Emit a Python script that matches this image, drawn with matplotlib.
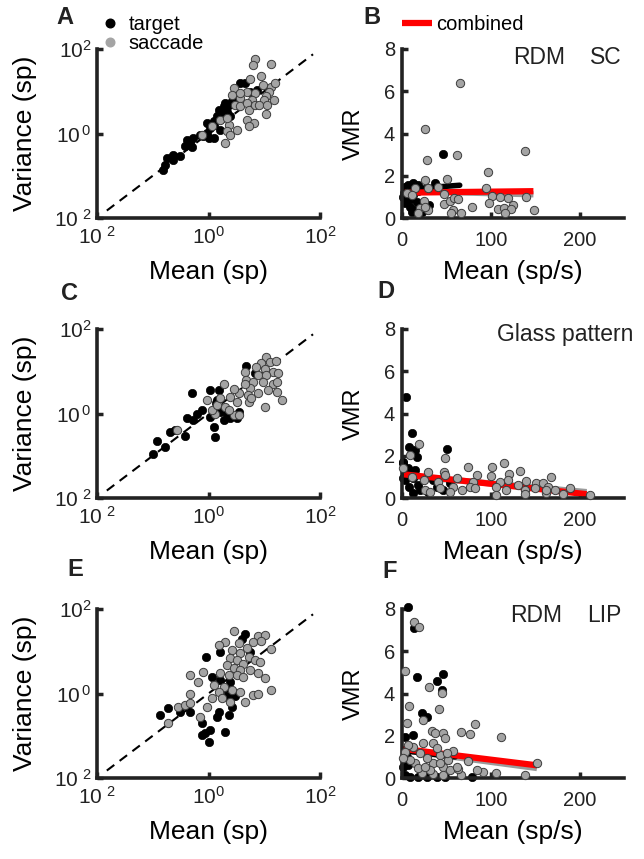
import matplotlib
matplotlib.use('Agg')
import matplotlib.pyplot as plt
import numpy as np
from matplotlib.lines import Line2D
from matplotlib.ticker import NullLocator

plt.rcParams['font.family'] = ['Liberation Sans', 'DejaVu Sans']
plt.rcParams['mathtext.fontset'] = 'custom'
plt.rcParams['mathtext.rm'] = 'Liberation Sans'
plt.rcParams['mathtext.default'] = 'regular'

# ---- panel A: RDM / SC, log10 mean and log10 variance (sp) ----
A_tgt_lm = [0.66, 0.87, 0.75, 0.42, 0.33, 0.27, 0.24, 0.15, 0.09, 0.03, -0.03, -0.09, -0.15, -0.27, -0.33,
            -0.39, -0.42, -0.51, -0.63, -0.75, -0.78, 0.21, -0.03, 0.18, 0.30, 0.36, 0.10, 0.39, 0.51, 0.57,
            0.09, 0.00, -0.81, -0.64, -0.30]
A_tgt_lv = [1.19, 1.03, 0.99, 0.76, 0.52, 0.64, 0.44, 0.41, 0.29, 0.13, 0.01, -0.07, -0.03, -0.11, -0.19,
            -0.15, -0.30, -0.54, -0.62, -0.58, -0.74, 0.09, 0.25, 0.56, 0.72, 0.68, 0.21, 0.41, 0.80, 1.19,
            -0.11, -0.11, -0.86, -0.51, -0.31]
A_sac_lm = [0.84, 0.79, 1.12, 0.94, 0.75, 0.97, 1.13, 1.08, 1.20, 1.03, 0.99, 0.84, 0.78, 0.69, 0.57,
            0.45, 0.42, 0.48, 0.57, 0.69, 0.72, 0.84, 0.90, 1.05, 1.17, 1.03, 0.69, 0.81, 0.72, 0.36,
            0.33, 0.39, 0.30, 0.51, 0.06, 0.21, -0.12, 0.33, 0.57]
A_sac_lv = [1.76, 1.63, 1.65, 1.35, 1.29, 1.15, 1.11, 0.99, 1.19, 0.88, 0.80, 0.96, 0.80, 0.99, 0.84,
            1.07, 0.92, 0.68, 0.64, 0.72, 0.56, 0.68, 0.68, 0.68, 0.80, 0.47, 0.33, 0.25, 0.17, 0.21,
            0.05, -0.03, -0.22, 0.09, 0.17, 0.33, -0.03, 0.37, 0.96]

# ---- panel B: RDM / SC, mean (sp/s) vs VMR ----
B_tgt_x = [46.4, 3.4, 7.1, 12.7, 18.3, 5.2, 1.5, 9.0, 14.6, 16.5, 20.2, 10.9, 27.7, 37.1, 3.4, 7.1,
           12.7, 22.1, 2.0, 5.0, 10.0, 25.0, 30.0, 18.0]
B_tgt_y = [3.02, 1.49, 1.57, 1.64, 1.57, 0.86, 1.01, 0.54, 0.38, 0.78, 0.62, 0.30, 0.46, 1.64, 0.70, 1.25,
           1.09, 0.30, 1.20, 1.00, 0.90, 0.55, 0.60, 1.30]
B_sac_x = [65.2, 25.8, 62.2, 27.7, 138.2, 96.3, 25.8, 51.0, 40.8, 29.6, 14.6, 5.2, 10.9, 94.4, 100.8,
           110.1, 119.5, 140.1, 98.1, 108.2, 114.6, 125.1, 123.2, 115.7, 148.3, 78.3, 67.0, 56.9, 54.7,
           47.6, 47.6, 54.0, 58.4, 63.3, 24.7, 29.6, 20.2, 18.3, 25.8]
B_sac_y = [6.38, 4.21, 2.98, 2.75, 3.19, 2.17, 1.80, 1.83, 1.49, 1.41, 1.41, 1.17, 1.09, 1.41, 1.06,
           1.00, 0.93, 1.00, 0.73, 0.41, 0.49, 0.62, 0.43, 0.22, 0.38, 0.51, 0.26, 0.38, 0.22,
           0.67, 1.12, 0.81, 0.97, 0.90, 0.81, 0.38, 0.49, 0.22, 0.54]
B_fit_x = [3, 148]
B_fit_comb = [1.20, 1.27]
B_fit_sac = [1.28, 1.12]
B_fit_tgt_x = [2, 65]
B_fit_tgt = [1.35, 1.55]

# ---- panel C: Glass pattern, log10 mean / variance ----
C_tgt_lm = [0.68, 0.83, -0.30, 0.03, 0.19, 0.16, 0.13, 0.21, 0.33, 0.39, 0.51, 0.54, 0.27, 0.09, 0.12,
            0.03, -0.12, -0.21, -0.27, -0.39, -0.60, -0.69, -0.42, -0.78, -0.93, -0.99]
C_tgt_lv = [1.12, 0.95, 0.48, 0.56, 0.56, 0.32, 0.24, 0.04, 0.00, -0.11, -0.11, 0.04, -0.15, -0.31, -0.55,
            -0.08, 0.08, 0.00, -0.15, -0.11, -0.39, -0.43, -0.53, -0.79, -0.64, -0.96]
C_sac_lm = [1.03, 0.95, 1.10, 1.21, 0.85, 1.01, 1.15, 1.25, 0.65, 0.89, 1.04, 0.67, 0.80, 0.98, 1.16,
            1.22, 1.07, 1.22, 1.31, 0.74, 0.89, 0.70, 0.54, 0.45, 0.27, 0.39, 0.51, 0.72, 0.77, 1.01,
            0.30, 0.12, 0.06, -0.03, 0.15, 0.21, 0.45, 0.54, 0.36, -0.57, 0.65]
C_sac_lv = [1.33, 1.19, 1.23, 1.25, 1.09, 1.05, 0.99, 0.95, 0.99, 0.91, 0.91, 0.79, 0.75, 0.75, 0.71,
            0.75, 0.56, 0.52, 0.32, 0.60, 0.48, 0.44, 0.48, 0.57, 0.71, 0.40, 0.28, 0.28, 0.36, 0.16,
            0.16, 0.00, 0.08, 0.32, 0.20, 0.36, -0.04, -0.04, 0.08, -0.39, 0.71]

# ---- panel D: Glass pattern, mean (sp/s) vs VMR ----
D_tgt_x = [4.5, 10.9, 8.2, 14.6, 16.5, 50.9, 1.5, 7.1, 14.6, 3.4, 12.7, 20.2, 35.2, 39.0, 54.0, 46.4,
           5.2, 12.7, 29.6, 1.0, 1.5, 8.0, 18.0]
D_tgt_y = [4.80, 3.09, 2.43, 2.27, 1.96, 2.32, 1.64, 1.40, 1.33, 0.85, 0.22, 0.38, 0.85, 0.54, 0.69, 0.38,
           1.17, 0.93, 0.30, 1.72, 0.93, 0.50, 0.60]
D_sac_x = [19.5, 9.0, 48.3, 74.5, 101.9, 115.0, 132.6, 168.2, 47.2, 29.6, 1.5, 83.9, 100.7, 120.6, 24.7,
           40.8, 62.2, 80.1, 110.1, 119.5, 139.3, 151.3, 158.8, 164.4, 149.4, 171.9, 188.8, 10.9, 57.7,
           67.1, 76.4, 106.4, 117.6, 130.7, 138.2, 162.6, 181.3, 106.4, 138.2, 211.2, 25.8, 31.5, 42.7,
           54.0, 48.3, 82.0, 162.6]
D_sac_y = [2.54, 2.04, 1.88, 1.45, 1.45, 1.64, 1.29, 0.98, 1.25, 1.25, 1.40, 1.09, 1.06, 1.12, 0.85,
           0.77, 0.93, 0.77, 0.77, 0.85, 0.81, 0.69, 0.69, 0.54, 0.46, 0.38, 0.46, 1.01, 0.54,
           0.38, 0.54, 0.50, 0.38, 0.62, 0.38, 0.22, 0.19, 0.14, 0.19, 0.14, 0.38, 0.30, 0.46,
           0.30, 1.09, 0.46, 0.38]
D_fit_x = [2, 208]
D_fit_comb = [1.12, 0.18]
D_fit_sac = [1.06, 0.28]

# ---- panel E: RDM / LIP, log10 mean / variance ----
E_tgt_lm = [-0.05, 0.66, 0.60, 0.21, 0.06, 0.21, 0.39, 0.30, 0.33, 0.42, 0.36, 0.18, -0.12, -0.33, -0.51,
            -0.72, -0.87, 0.03, -0.06, 0.30, 0.15, 0.75, 0.48, 0.00, -0.12]
E_tgt_lv = [0.86, 1.41, 1.28, 0.99, 0.40, 0.32, 0.28, 0.12, -0.07, -0.31, -0.51, -0.43, -0.71, -0.43, -0.43,
            -0.35, -0.51, -0.86, -0.94, -0.90, -0.55, 0.99, -0.07, -1.14, -0.98]
E_sac_lm = [0.46, 0.88, 1.01, 0.80, 0.55, 0.30, 0.18, 0.42, 0.69, 0.94, 1.13, 0.57, 0.72, 0.83, 0.92,
            0.39, 0.51, 0.62, 0.33, 0.45, 0.57, 0.75, 0.89, 1.01, 0.21, 0.36, 0.51, 0.62, -0.09, -0.33,
            -0.18, 0.09, 0.27, 0.42, 0.57, 0.18, 0.80, 0.89, 1.13, -0.33, 0.06, 0.24, 0.39, 0.66, -0.03,
            -0.54, -0.42, -0.15, -0.72, -0.33]
E_sac_lv = [1.49, 1.36, 1.38, 1.23, 1.19, 1.23, 1.15, 1.03, 1.07, 1.25, 1.05, 0.95, 0.87, 0.79, 0.75,
            0.83, 0.79, 0.71, 0.67, 0.60, 0.56, 0.56, 0.49, 0.36, 0.48, 0.44, 0.44, 0.40, 0.52, 0.44,
            0.28, 0.20, 0.16, 0.08, 0.04, 0.04, -0.04, 0.00, 0.08, 0.00, -0.11, -0.11, -0.19, -0.19, -0.31,
            -0.31, -0.27, -0.55, -0.71, -0.23]

# ---- panel F: RDM / LIP, mean (sp/s) vs VMR ----
F_tgt_x = [7.1, 13.5, 16.5, 46.4, 39.0, 44.6, 22.1, 27.7, 3.4, 12.7, 5.2, 7.1, 1.5, 3.4, 9.0, 18.4, 27.7,
           39.0, 48.3, 78.3]
F_tgt_y = [8.11, 7.08, 4.80, 4.92, 4.59, 4.17, 3.06, 2.90, 1.96, 2.04, 1.01, 0.62, 0.54, 0.14, 0.05, 0.05,
           0.05, 0.05, 0.05, 0.05]
F_sac_x = [13.5, 19.3, 3.4, 30.7, 44.6, 41.9, 8.2, 24.0, 5.2, 82.0, 76.4, 66.3, 112.0, 33.3, 37.1, 46.4,
           48.3, 24.0, 35.2, 57.7, 74.5, 152.1, 138.2, 106.4, 91.4, 83.9, 67.0, 62.5, 46.4, 54.0, 35.2,
           27.7, 20.2, 12.7, 7.1, 3.4, 14.6, 22.1, 35.2, 46.4, 52.1, 42.7, 39.0, 9.0, 31.5, 18.3, 25.8,
           42.7, 50.2, 61.4, 1.0]
F_sac_y = [7.40, 7.13, 5.08, 4.29, 4.04, 3.25, 3.41, 2.75, 2.62, 2.54, 2.08, 2.16, 1.96, 2.23, 2.15, 2.11,
           1.91, 1.64, 1.67, 1.29, 0.80, 0.73, 0.14, 0.25, 0.30, 0.38, 0.14, 0.41, 0.54, 0.38, 0.69,
           0.93, 1.17, 1.48, 1.56, 1.24, 0.69, 0.22, 0.19, 0.14, 0.85, 1.09, 1.40, 0.85, 0.38, 0.46, 0.54,
           0.69, 1.17, 0.54, 0.95]
F_fit_x = [1, 152]
F_fit_comb = [1.38, 0.60]
F_fit_sac = [1.32, 0.47]
F_fit_tgt_x = [1, 60]
F_fit_tgt = [1.30, 1.00]

diag = [0.015, 75]

AX_COL = '#222222'
SAC_FACE = '#a4a4a4'
SAC_EDGE = '#3c3c3c'
MS = 36

fig = plt.figure(figsize=(6.44, 8.59), dpi=100)
W, H = 644.0, 859.0


def add_ax(left, top, right, bottom):
    return fig.add_axes([left / W, 1 - bottom / H, (right - left) / W, (bottom - top) / H])


def style(ax, lsize):
    for s in ['top', 'right']:
        ax.spines[s].set_visible(False)
    for s in ['left', 'bottom']:
        ax.spines[s].set_linewidth(2.6)
        ax.spines[s].set_color(AX_COL)
    ax.tick_params(direction='in', length=4, width=2.5, color=AX_COL, labelsize=lsize, labelcolor='#222222')
    ax.set_facecolor('none')


def log_panel(ax, tm, tv, sm, sv):
    ax.plot(diag, diag, color='k', lw=1.5, dashes=(4.5, 3.2), zorder=1)
    ax.scatter(10 ** np.array(tm), 10 ** np.array(tv), s=MS, c='k', edgecolors='k', linewidths=0.5,
               zorder=2, clip_on=False)
    ax.scatter(10 ** np.array(sm), 10 ** np.array(sv), s=MS, c=SAC_FACE, edgecolors=SAC_EDGE,
               linewidths=0.7, zorder=3, clip_on=False)
    ax.set_xscale('log')
    ax.set_yscale('log')
    ax.set_xlim(1e-2, 1e2)
    ax.set_ylim(1e-2, 1e2)
    ax.set_xticks([1e-2, 1, 1e2])
    ax.set_yticks([1e-2, 1, 1e2])
    ax.xaxis.set_minor_locator(NullLocator())
    ax.yaxis.set_minor_locator(NullLocator())
    ax.set_xticklabels([r'$10^{\ 2}$', r'$10^{0}$', r'$10^{2}$'])
    ax.set_yticklabels([r'$10^{\ 2}$', r'$10^{\,0}$', r'$10^{2}$'])
    style(ax, 15)
    ax.tick_params(axis='x', pad=6)
    ax.tick_params(axis='y', pad=4)
    ax.set_xlabel('Mean (sp)', fontsize=19)
    ax.set_ylabel('Variance (sp)', fontsize=19)
    ax.xaxis.set_label_coords(0.5, -0.25)
    ax.yaxis.set_label_coords(-0.27, 0.5)


def vmr_panel(ax, tx, ty, sx, sy, fx, comb, sac, tfx=None, tfy=None):
    ax.plot(fx, sac, color='#9a9a9a', lw=4.5, solid_capstyle='butt', zorder=1)
    if tfx is not None:
        ax.plot(tfx, tfy, color='k', lw=4, solid_capstyle='round', zorder=1.5)
    ax.scatter(tx, ty, s=MS, c='k', edgecolors='k', linewidths=0.5, zorder=2, clip_on=False)
    ax.plot(fx, comb, color='#ff0000', lw=4.5, solid_capstyle='butt', zorder=2.5)
    ax.scatter(sx, sy, s=MS, c=SAC_FACE, edgecolors=SAC_EDGE, linewidths=0.7, zorder=3, clip_on=False)
    ax.set_xlim(0, 250)
    ax.set_ylim(0, 8)
    ax.set_xticks([0, 100, 200])
    ax.set_yticks([0, 2, 4, 6, 8])
    style(ax, 14.5)
    ax.tick_params(axis='x', pad=9)
    ax.tick_params(axis='y', pad=5)
    ax.set_xlabel('Mean (sp/s)', fontsize=19)
    ax.set_ylabel('VMR', fontsize=17)
    ax.xaxis.set_label_coords(0.5, -0.25)
    ax.yaxis.set_label_coords(-0.167, 0.5)


axA = add_ax(97, 49, 320, 218)
axB = add_ax(402, 49, 624, 218)
axC = add_ax(97, 329, 320, 498)
axD = add_ax(402, 329, 624, 498)
axE = add_ax(97, 609, 320, 778)
axF = add_ax(402, 609, 624, 778)

log_panel(axA, A_tgt_lm, A_tgt_lv, A_sac_lm, A_sac_lv)
log_panel(axC, C_tgt_lm, C_tgt_lv, C_sac_lm, C_sac_lv)
log_panel(axE, E_tgt_lm, E_tgt_lv, E_sac_lm, E_sac_lv)
vmr_panel(axB, B_tgt_x, B_tgt_y, B_sac_x, B_sac_y, B_fit_x, B_fit_comb, B_fit_sac, B_fit_tgt_x, B_fit_tgt)
vmr_panel(axD, D_tgt_x, D_tgt_y, D_sac_x, D_sac_y, D_fit_x, D_fit_comb, D_fit_sac)
vmr_panel(axF, F_tgt_x, F_tgt_y, F_sac_x, F_sac_y, F_fit_x, F_fit_comb, F_fit_sac, F_fit_tgt_x, F_fit_tgt)

# legends
h_t = Line2D([], [], ls='none', marker='o', ms=6.2, mfc='k', mec='k')
h_s = Line2D([], [], ls='none', marker='o', ms=6.2, mfc=SAC_FACE, mec=SAC_FACE)
axA.legend([h_t, h_s], ['target', 'saccade'], loc='upper left', bbox_to_anchor=(0.02, 1.2),
           frameon=False, fontsize=14.5, handlelength=0.8, handletextpad=0.55, labelspacing=0.0,
           borderpad=0, borderaxespad=0)
h_c = Line2D([], [], color='#ff0000', lw=4.5, solid_capstyle='butt')
axB.legend([h_c], ['combined'], loc='upper left', bbox_to_anchor=(0.0, 1.2),
           frameon=False, fontsize=14.5, handlelength=1.5, handletextpad=0.2, borderpad=0, borderaxespad=0)

# panel annotations
axB.text((513 - 402) / 222, (218 - 57) / 169, 'RDM', transform=axB.transAxes, fontsize=16.5,
         ha='left', va='center', color='#222222')
axB.text((590 - 402) / 222, (218 - 57) / 169, 'SC', transform=axB.transAxes, fontsize=16.5,
         ha='left', va='center', color='#222222')
axD.text((497 - 402) / 222, (498 - 335) / 169, 'Glass pattern', transform=axD.transAxes, fontsize=16.5,
         ha='left', va='center', color='#222222')
axF.text((510 - 402) / 222, (778 - 615) / 169, 'RDM', transform=axF.transAxes, fontsize=16.5,
         ha='left', va='center', color='#222222')
axF.text((587 - 402) / 222, (778 - 615) / 169, 'LIP', transform=axF.transAxes, fontsize=16.5,
         ha='left', va='center', color='#222222')

for lab, x, y in [('A', 65, 17), ('B', 372, 17), ('C', 70, 293), ('D', 386, 292), ('E', 75, 570),
                  ('F', 390, 572)]:
    fig.text(x / W, 1 - y / H, lab, fontsize=17, fontweight='bold', ha='center', va='center',
             color='#222222')

fig.savefig('out.png', dpi=100)
